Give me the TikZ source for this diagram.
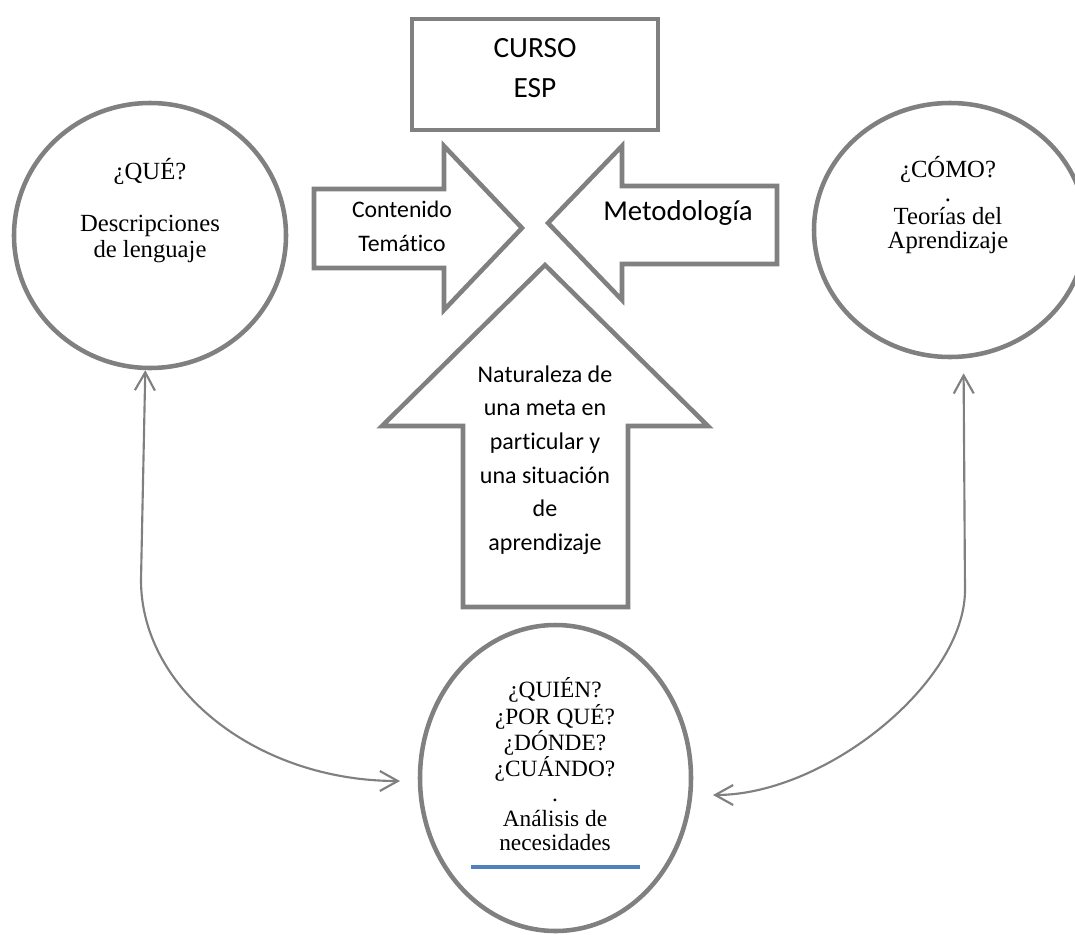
\documentclass[tikz,border=0pt]{standalone}
\usepackage{fontspec}
\setmainfont{Liberation Serif}
\newfontfamily\calib[Ligatures=NoCommon]{Carlito}
\usetikzlibrary{arrows.meta,shapes.geometric}
\definecolor{shapegray}{RGB}{128,128,128}
\definecolor{lineblue}{RGB}{79,129,189}
\begin{document}
\begin{tikzpicture}[x=0.75pt,y=-0.75pt,
  shp/.style={draw=shapegray,line width=3.4pt},
  oval/.style={shp,ellipse,inner sep=0pt},
  conn/.style={draw=shapegray,line width=1.6pt,
    {Straight Barb[length=13.5pt,width=15pt]}-{Straight Barb[length=13.5pt,width=15pt]}},
  txt/.style={align=center,inner sep=0pt,text=black},
]
\useasboundingbox (0,0) rectangle (1075,935);
\clip (0,0) rectangle (1075,935);

% top box
\node[shp,minimum width=184.5pt,minimum height=83.25pt,inner sep=0pt] (curso) at (535,74.5) {};
\node[txt,font=\calib\fontsize{22}{30}\selectfont] (cursoT) at (535,68.5) {CURSO\\ESP};

% block arrows
\draw[shp] (314,189) -- (444,189) -- (444,146) -- (522,228) -- (444,310) -- (444,268) -- (314,268) -- cycle;
\node[txt,font=\calib\fontsize{17.8}{25.5}\selectfont] (cont) at (402,226.5) {Contenido\\Temático};

\draw[shp] (777,186) -- (622,186) -- (622,146) -- (548,223) -- (622,300) -- (622,264) -- (777,264) -- cycle;
\node[txt,font=\calib\fontsize{21.6}{26}\selectfont] (met) at (678,212.5) {Metodología};

\draw[shp] (545,265) -- (708,426) -- (628,426) -- (628,607) -- (463,607) -- (463,426) -- (382,426) -- cycle;
\node[txt,font=\calib\fontsize{18}{25.2}\selectfont] (nat) at (545,460)
  {Naturaleza de\\una meta en\\particular y\\una situación\\de\\aprendizaje};

% circles
\node[oval,minimum width=204pt,minimum height=198.75pt] (que) at (150,235.5) {};
\node[txt,font=\fontsize{18.5}{19.5}\selectfont] (queT) at (150,210.5)
  {¿QUÉ?\\[19.5pt]Descripciones\\de lenguaje};

\node[oval,minimum width=204pt,minimum height=190.5pt] (como) at (950,230) {};
\node[txt,font=\fontsize{18.5}{17.8}\selectfont] (comoT) at (948,205)
  {¿CÓMO?\\.\\Teorías del\\Aprendizaje};

\node[oval,minimum width=203.25pt,minimum height=229.5pt] (ell) at (555.5,778) {};
\node[txt,font=\fontsize{17.5}{18.6}\selectfont] (ellT) at (555,764.5)
  {¿QUIÉN?\\¿POR QUÉ?\\¿DÓNDE?\\¿CUÁNDO?\\.\\Análisis de\\necesidades};
\draw[lineblue,line width=2.3pt] (471,867) -- (640,867);

% connectors
\coordinate (la) at (400,781);
\coordinate (ra) at (713,795);
\draw[conn] (que.-92) -- (141,580) .. controls (141,690) and (258,781) .. (la);
\draw[conn,shorten >=11pt] (ra) .. controls (826,795) and (965,682) .. (965,590) -- (como.-84);
\end{tikzpicture}
\end{document}
